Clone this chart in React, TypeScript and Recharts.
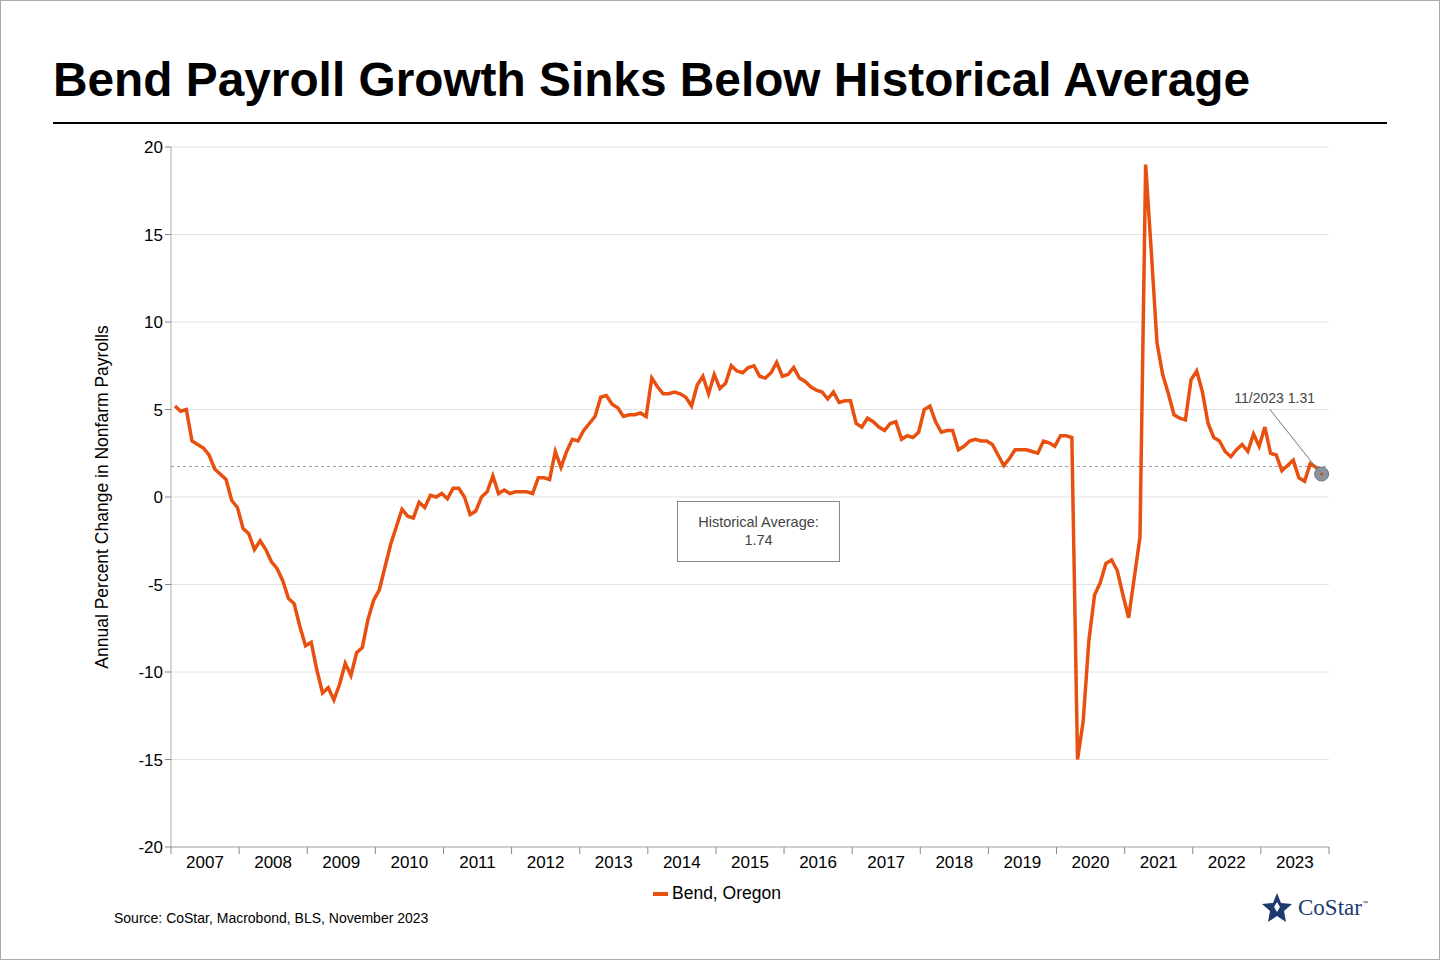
import React from 'react';
import { LineChart, Line, XAxis, YAxis, CartesianGrid, ReferenceLine, ReferenceDot } from 'recharts';

const years = ['2007', '2008', '2009', '2010', '2011', '2012', '2013', '2014', '2015', '2016', '2017', '2018', '2019', '2020', '2021', '2022', '2023'];

// monthly annual % change, Jan 2007 .. Nov 2023
const v2007 = [5.2, 4.9, 5.0, 3.2, 3.0, 2.8, 2.4, 1.6, 1.3, 1.0, -0.2, -0.6];
const v2008 = [-1.8, -2.1, -3.0, -2.5, -3.0, -3.7, -4.1, -4.8, -5.8, -6.1, -7.4, -8.5];
const v2009 = [-8.3, -9.9, -11.2, -10.9, -11.6, -10.7, -9.5, -10.2, -8.9, -8.6, -7.0, -5.9];
const v2010 = [-5.3, -4.0, -2.7, -1.7, -0.7, -1.1, -1.2, -0.3, -0.6, 0.1, 0.0, 0.2];
const v2011 = [-0.1, 0.5, 0.5, 0.0, -1.0, -0.8, 0.0, 0.3, 1.2, 0.2, 0.4, 0.2];
const v2012 = [0.3, 0.3, 0.3, 0.2, 1.1, 1.1, 1.0, 2.6, 1.7, 2.6, 3.3, 3.2];
const v2013 = [3.8, 4.2, 4.6, 5.7, 5.8, 5.3, 5.1, 4.6, 4.7, 4.7, 4.8, 4.6];
const v2014 = [6.8, 6.3, 5.9, 5.9, 6.0, 5.9, 5.7, 5.2, 6.4, 6.9, 5.9, 7.0];
const v2015 = [6.2, 6.5, 7.5, 7.2, 7.1, 7.4, 7.5, 6.9, 6.8, 7.1, 7.7, 6.9];
const v2016 = [7.0, 7.4, 6.8, 6.6, 6.3, 6.1, 6.0, 5.6, 6.0, 5.4, 5.5, 5.5];
const v2017 = [4.2, 4.0, 4.5, 4.3, 4.0, 3.8, 4.2, 4.3, 3.3, 3.5, 3.4, 3.7];
const v2018 = [5.0, 5.2, 4.3, 3.7, 3.8, 3.8, 2.7, 2.9, 3.2, 3.3, 3.2, 3.2];
const v2019 = [3.0, 2.4, 1.8, 2.2, 2.7, 2.7, 2.7, 2.6, 2.5, 3.2, 3.1, 2.9];
const v2020 = [3.5, 3.5, 3.4, -15.0, -12.8, -8.2, -5.6, -4.9, -3.8, -3.6, -4.2, -5.6];
const v2021 = [-6.9, -4.6, -2.3, 19.0, 14.0, 8.8, 7.0, 5.9, 4.7, 4.5, 4.4, 6.7];
const v2022 = [7.2, 6.0, 4.2, 3.4, 3.2, 2.6, 2.3, 2.7, 3.0, 2.6, 3.6, 2.9];
const v2023 = [4.0, 2.5, 2.4, 1.5, 1.8, 2.1, 1.1, 0.9, 1.9, 1.7, 1.31];

const values = [
  ...v2007, ...v2008, ...v2009, ...v2010, ...v2011, ...v2012, ...v2013, ...v2014, ...v2015,
  ...v2016, ...v2017, ...v2018, ...v2019, ...v2020, ...v2021, ...v2022, ...v2023,
];
const yTicks = [-20, -15, -10, -5, 0, 5, 10, 15, 20];
const historicalAverage = 1.74;

const data = values.map((v, i) => ({ i, v }));
const last = data[data.length - 1];
const yearTicks = years.map((_, k) => -0.7 + 12 * k).concat([-0.7 + 12 * years.length]);

const font = '"Liberation Sans", Arial, sans-serif';

const YearTick = (props: any) => {
  const { x, y, index } = props;
  return (
    <g>
      <line x1={x} y1={y - 8} x2={x} y2={y - 1} stroke="#888" />
      {index < years.length && (
        <text x={x + 34} y={y + 13} textAnchor="middle" fontSize={17} fill="#000" fontFamily={font}>{years[index]}</text>
      )}
    </g>
  );
};

const LastPoint = (props: any) => {
  const { cx, cy } = props;
  return (
    <g>
      <line x1={cx - 52} y1={cy - 65} x2={cx - 2} y2={cy - 2} stroke="#777" strokeWidth={1} />
      <circle cx={cx} cy={cy} r={7} fill="#8a929c" stroke="#6d7580" />
      <circle cx={cx} cy={cy} r={1.5} fill="#d9441a" />
      <text x={cx - 47} y={cy - 71} textAnchor="middle" fontSize={14} fill="#444" fontFamily={font}>11/2023 1.31</text>
    </g>
  );
};

export default function App() {
  return (
    <div style={{ position: 'absolute', left: 0, top: 0, width: 1440, height: 960, boxSizing: 'border-box', border: '1px solid #aaa', background: '#fff', fontFamily: font }}>
      <div style={{ position: 'absolute', left: 52, top: 51, fontSize: 47.8, fontWeight: 'bold', color: '#000', whiteSpace: 'nowrap' }}>
        Bend Payroll Growth Sinks Below Historical Average
      </div>
      <div style={{ position: 'absolute', left: 52, top: 121, width: 1334, height: 2, background: '#000' }} />
      <div style={{ position: 'absolute', left: 101, top: 496, transform: 'translate(-50%, -50%) rotate(-90deg)', fontSize: 17.5, whiteSpace: 'nowrap' }}>
        Annual Percent Change in Nonfarm Payrolls
      </div>
      <div style={{ position: 'absolute', left: 0, top: 0 }}>
        <LineChart width={1440} height={960} data={data} margin={{ top: 146, left: 110, right: 112, bottom: 84 }}>
          <CartesianGrid vertical={false} stroke="#e2e2e2" />
          <XAxis dataKey="i" type="number" domain={[-0.7, 203.3]} ticks={yearTicks} interval={0} height={30}
            axisLine={{ stroke: '#aaa' }} tickLine={false} tick={<YearTick />} allowDataOverflow />
          <YAxis domain={[-20, 20]} ticks={yTicks} width={60} axisLine={{ stroke: '#aaa' }} tickLine={{ stroke: '#888' }} tickSize={6}
            tick={{ fontSize: 17, fill: '#000', fontFamily: font }} />
          <ReferenceLine y={historicalAverage} stroke="#999" strokeDasharray="3 3" />
          <Line type="linear" dataKey="v" stroke="#e8500f" strokeWidth={3.5} dot={false} isAnimationActive={false} />
          <ReferenceDot x={last.i} y={last.v} shape={<LastPoint />} />
        </LineChart>
      </div>
      <div style={{ position: 'absolute', left: 676, top: 500, width: 163, height: 61, border: '1px solid #888', background: '#fff', textAlign: 'center', fontSize: 14.5, color: '#444', lineHeight: '18px', paddingTop: 11, boxSizing: 'border-box' }}>
        Historical Average:<br />{historicalAverage}
      </div>
      <div style={{ position: 'absolute', left: 652, top: 882, fontSize: 17.5, display: 'flex', alignItems: 'center' }}>
        <span style={{ display: 'inline-block', width: 15, height: 4, background: '#e8500f', marginRight: 4 }} />
        Bend, Oregon
      </div>
      <div style={{ position: 'absolute', left: 113, top: 909, fontSize: 14 }}>
        Source: CoStar, Macrobond, BLS, November 2023
      </div>
      <div style={{ position: 'absolute', left: 1260, top: 891, display: 'flex', alignItems: 'center' }}>
        <svg width={32} height={32} viewBox="0 0 32 32">
          <polygon points="16,1 20,11 31,12 23,19 25,30 16,24 7,30 9,19 1,12 12,11" fill="#1d3a6e" />
          <polygon points="16,10 19,15 16,20 13,15" fill="#fff" />
        </svg>
        <span style={{ fontFamily: '"Liberation Serif", serif', fontSize: 23, color: '#1d3a6e', marginLeft: 5 }}>CoStar</span>
        <span style={{ fontSize: 6, color: '#1d3a6e', alignSelf: 'flex-start', marginTop: 8 }}>™</span>
      </div>
    </div>
  );
}
